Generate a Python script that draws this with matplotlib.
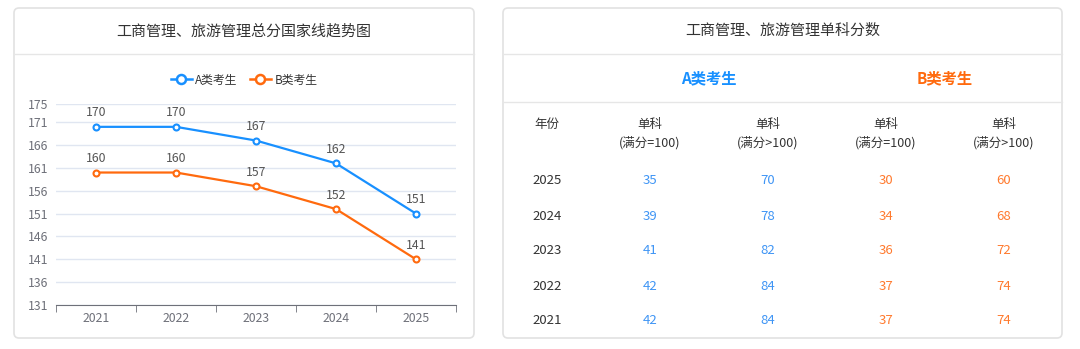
import matplotlib
matplotlib.use("Agg")
import matplotlib.pyplot as plt
from matplotlib.patches import FancyBboxPatch
from matplotlib.lines import Line2D

plt.rcParams["font.family"] = ["Noto Sans CJK SC", "DejaVu Sans"]

# ---- data ----
years = ["2021", "2022", "2023", "2024", "2025"]
total_a = [170, 170, 167, 162, 151]
total_b = [160, 160, 157, 152, 141]
y_ticks = [131, 136, 141, 146, 151, 156, 161, 166, 171, 175]

table_years = ["2025", "2024", "2023", "2022", "2021"]
a_single_100 = [35, 39, 41, 42, 42]
a_single_over = [70, 78, 82, 84, 84]
b_single_100 = [30, 34, 36, 37, 37]
b_single_over = [60, 68, 72, 74, 74]

left_title = "工商管理、旅游管理总分国家线趋势图"
right_title = "工商管理、旅游管理单科分数"
series_names = ["A类考生", "B类考生"]
col_headers = ["年份", "单科\n(满分=100)", "单科\n(满分>100)", "单科\n(满分=100)", "单科\n(满分>100)"]

BLUE = "#1890FF"
ORANGE = "#FF6A0E"
BLUE_TXT = "#3F95F5"
ORANGE_TXT = "#FF7A2E"
W, H = 1080, 349

fig = plt.figure(figsize=(W / 100, H / 100), dpi=100)
fig.patch.set_facecolor("white")

# background layer in pixel coordinates
bg = fig.add_axes([0, 0, 1, 1], zorder=0)
bg.set_xlim(0, W)
bg.set_ylim(H, 0)
bg.axis("off")

for x0, x1 in [(14, 474), (503, 1062)]:
    bg.add_patch(FancyBboxPatch((x0, 8), x1 - x0, 330,
                                boxstyle="round,pad=0,rounding_size=5",
                                fc="white", ec="#E2E2E2", lw=1.2))
    bg.plot([x0, x1], [54, 54], color="#E6E6E6", lw=1)

bg.text(244, 31, left_title, ha="center", va="center", fontsize=10.8, color="#333333")
bg.text(783, 31, right_title, ha="center", va="center", fontsize=10.8, color="#333333")

# ---- table ----
bg.plot([503, 1062], [102, 102], color="#E6E6E6", lw=1)
col_x = [547, 650, 768, 886, 1004]
bg.text((col_x[1] + col_x[2]) / 2, 78, series_names[0], ha="center", va="center",
        fontsize=11, fontweight="bold", color=BLUE)
bg.text((col_x[3] + col_x[4]) / 2, 78, series_names[1], ha="center", va="center",
        fontsize=11, fontweight="bold", color=ORANGE)
for cx, hdr in zip(col_x, col_headers):
    bg.text(cx, 124 if "\n" not in hdr else 134, hdr, ha="center", va="center",
            fontsize=9, color="#333333", linespacing=1.45)

row_y = [181, 216, 251, 286, 321]
cols = [table_years, a_single_100, a_single_over, b_single_100, b_single_over]
col_colors = ["#333333", BLUE_TXT, BLUE_TXT, ORANGE_TXT, ORANGE_TXT]
for cx, vals, c in zip(col_x, cols, col_colors):
    for ry, v in zip(row_y, vals):
        bg.text(cx, ry, str(v), ha="center", va="center", fontsize=9.5, color=c)

# ---- line chart ----
ax = fig.add_axes([56 / W, 1 - 305 / H, 400 / W, 201 / H], zorder=2)
ax.set_facecolor("none")
x = list(range(len(years)))
for vals, col in [(total_a, BLUE), (total_b, ORANGE)]:
    ax.plot(x, vals, color=col, lw=1.6, marker="o", ms=4.3,
            mfc="white", mec=col, mew=1.5, zorder=3)
    for xi, v in zip(x, vals):
        ax.annotate(str(v), (xi, v), xytext=(0, 10), textcoords="offset points",
                    ha="center", va="center", fontsize=8.8, color="#555555")

ax.set_xlim(-0.5, len(years) - 0.5)
ax.set_ylim(131, 175)
ax.set_yticks(y_ticks)
ax.set_xticks(x)
ax.set_xticklabels(years)
ax.set_xticks([i - 0.5 for i in range(len(years) + 1)], minor=True)
ax.tick_params(axis="x", which="major", length=0, pad=5, labelsize=8.8, labelcolor="#6E7079")
ax.tick_params(axis="x", which="minor", length=5, color="#6E7079", direction="out")
ax.tick_params(axis="y", length=0, labelsize=8.8, labelcolor="#6E7079")
for lbl in ax.get_yticklabels():
    lbl.set_horizontalalignment("left")
ax.yaxis.set_tick_params(pad=20)
ax.grid(axis="y", color="#E0E6F1", lw=1)
ax.spines[["top", "right", "left"]].set_visible(False)
ax.spines["bottom"].set_color("#6E7079")
ax.set_axisbelow(True)

handles = [Line2D([0], [0], color=c, lw=1.8, marker="o", ms=6.5, mfc="white", mec=c, mew=1.8)
           for c in (BLUE, ORANGE)]
fig.legend(handles, series_names, loc="center", bbox_to_anchor=(244 / W, 1 - 80 / H),
           ncol=2, frameon=False, fontsize=8.5, handlelength=1.8, columnspacing=1.0,
           handletextpad=0.3, labelcolor="#333333")

fig.savefig("out.png", dpi=100, facecolor="white")
